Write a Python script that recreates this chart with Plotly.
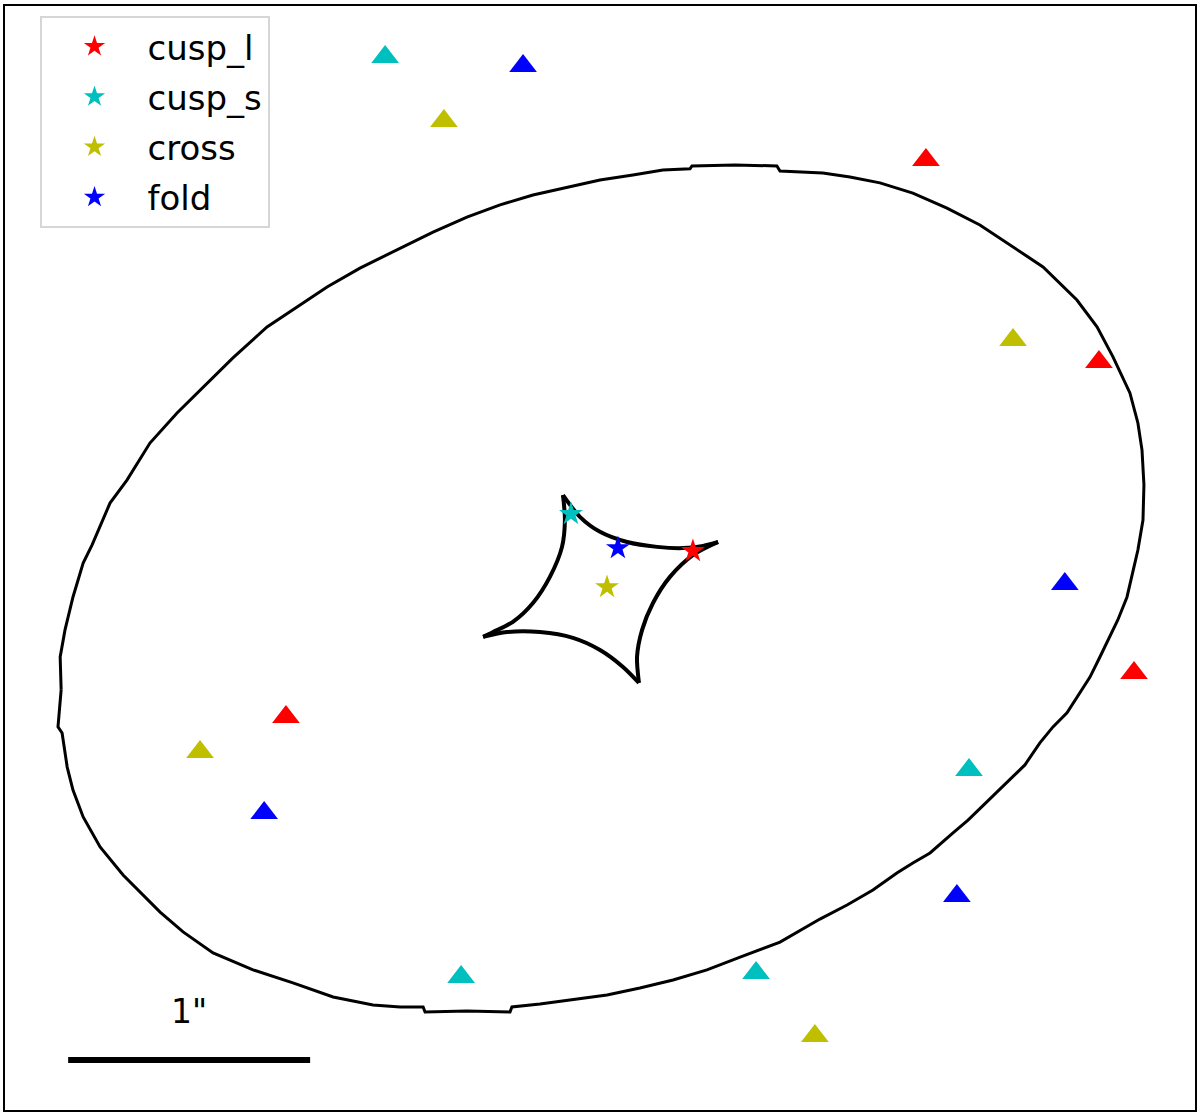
import plotly.graph_objects as go

# tangential critical curve (arcsec), clockwise from the left edge
crit_x = [-2.227, -2.231, -2.211, -2.178, -2.136, -2.099, -2.025, -1.955, -1.860, -1.748,
          -1.517, -1.376, -1.252, -1.128, -0.992, -0.826, -0.690, -0.550, -0.413, -0.277,
          -0.136, 0.000, 0.136, 0.260, 0.372, 0.380, 0.558, 0.731, 0.744, 0.921,
          1.033, 1.157, 1.293, 1.434, 1.570, 1.707, 1.831, 1.971, 2.054, 2.120,
          2.190, 2.223, 2.240, 2.248, 2.244, 2.223, 2.202, 2.178, 2.140, 2.107,
          2.066, 2.025, 1.983, 1.930, 1.872, 1.818, 1.756, 1.521, 1.459, 1.364,
          1.293, 1.227, 1.128, 1.021, 0.909, 0.744, 0.579, 0.442, 0.302, 0.165,
          0.029, -0.112, -0.248, -0.364, -0.372, -0.550, -0.723, -0.731, -0.826, -0.938,
          -1.103, -1.269, -1.434, -1.599, -1.723, -1.818, -1.971, -2.066, -2.136, -2.178,
          -2.202, -2.223, -2.240, -2.227]
crit_y = [-0.417, -0.281, -0.169, -0.033, 0.107, 0.182, 0.355, 0.450, 0.603, 0.727,
          0.955, 1.083, 1.165, 1.248, 1.326, 1.409, 1.475, 1.537, 1.587, 1.628,
          1.661, 1.690, 1.711, 1.731, 1.736, 1.748, 1.752, 1.748, 1.727, 1.719,
          1.702, 1.678, 1.636, 1.574, 1.504, 1.413, 1.331, 1.194, 1.083, 0.959,
          0.810, 0.686, 0.574, 0.430, 0.285, 0.161, 0.066, -0.033, -0.128, -0.198,
          -0.281, -0.364, -0.430, -0.512, -0.570, -0.636, -0.727, -0.955, -1.008, -1.091,
          -1.132, -1.174, -1.244, -1.306, -1.364, -1.459, -1.521, -1.574, -1.616, -1.649,
          -1.678, -1.698, -1.715, -1.727, -1.748, -1.744, -1.748, -1.727, -1.727, -1.719,
          -1.686, -1.628, -1.574, -1.504, -1.417, -1.335, -1.182, -1.066, -0.942, -0.831,
          -0.736, -0.595, -0.570, -0.417]

# caustic: four folds, top cusp -> right -> bottom -> left -> top
caus_x = [-0.153, -0.083, 0.000, 0.112, 0.236, 0.343, 0.426, 0.488, None,
          0.488, 0.384, 0.289, 0.219, 0.174, 0.153, 0.161, None,
          0.161, 0.095, 0.000, -0.112, -0.248, -0.384, -0.483, None,
          -0.483, -0.442, -0.360, -0.277, -0.207, -0.157, -0.145, -0.153]
caus_y = [0.388, 0.298, 0.236, 0.194, 0.174, 0.169, 0.178, 0.194, None,
          0.194, 0.140, 0.050, -0.058, -0.169, -0.281, -0.388, None,
          -0.388, -0.322, -0.252, -0.202, -0.178, -0.178, -0.198, None,
          -0.198, -0.178, -0.136, -0.058, 0.050, 0.174, 0.285, 0.388]

names = ["cusp_l", "cusp_s", "cross", "fold"]
colors = ["#ff0000", "#00bfbf", "#bfbf00", "#0000ff"]

# source positions
src_x = [0.384, -0.120, 0.029, 0.074]
src_y = [0.157, 0.310, 0.008, 0.169]

# lensed image positions, one list per source
img_x_cusp_l = [1.347, 2.062, 2.207, -1.298]
img_y_cusp_l = [1.773, 0.938, -0.347, -0.529]
img_x_cusp_s = [-0.888, 1.525, -0.574, 0.645]
img_y_cusp_s = [2.198, -0.748, -1.603, -1.587]
img_x_cross = [-0.645, 1.707, -1.653, 0.888]
img_y_cross = [1.934, 1.029, -0.674, -1.847]
img_x_fold = [-0.318, 1.921, 1.475, -1.388]
img_y_fold = [2.161, 0.021, -1.269, -0.926]

img_x = [img_x_cusp_l, img_x_cusp_s, img_x_cross, img_x_fold]
img_y = [img_y_cusp_l, img_y_cusp_s, img_y_cross, img_y_fold]

# 1 arcsec scale bar
bar_x0, bar_len, bar_y = -2.198, 1.0, -1.946

fig = go.Figure()

fig.add_trace(go.Scatter(x=crit_x, y=crit_y, mode="lines",
                         line=dict(color="black", width=3), showlegend=False))
fig.add_trace(go.Scatter(x=caus_x, y=caus_y, mode="lines",
                         line=dict(color="black", width=4, shape="spline", smoothing=0.8),
                         showlegend=False))

for i, name in enumerate(names):
    fig.add_trace(go.Scatter(x=img_x[i], y=img_y[i], mode="markers",
                             marker=dict(symbol="triangle-up", size=24, color=colors[i]),
                             showlegend=False))

for i, name in enumerate(names):
    fig.add_trace(go.Scatter(x=[src_x[i]], y=[src_y[i]], mode="markers", name=name,
                             legendgroup=name,
                             marker=dict(symbol="star", size=18, color=colors[i])))

fig.add_trace(go.Scatter(x=[bar_x0, bar_x0 + bar_len], y=[bar_y, bar_y], mode="lines",
                         line=dict(color="black", width=6), showlegend=False))
fig.add_annotation(x=bar_x0 + bar_len / 2, y=bar_y, yshift=48, text='1"', showarrow=False,
                   font=dict(size=33, color="black"))

axis_style = dict(showgrid=False, zeroline=False, showticklabels=False, ticks="",
                  showline=True, mirror=True, linecolor="black", linewidth=2)

fig.update_layout(
    width=1200, height=1113,
    margin=dict(l=5, r=5, t=6, b=3),
    plot_bgcolor="white", paper_bgcolor="white",
    font=dict(family="DejaVu Sans", color="black"),
    xaxis=dict(range=[-2.459, 2.459], **axis_style),
    yaxis=dict(range=[-2.153, 2.409], **axis_style),
    legend=dict(x=0.029, y=0.991, xanchor="left", yanchor="top",
                font=dict(size=34), bgcolor="white",
                bordercolor="#d6d6d6", borderwidth=2,
                itemwidth=96, tracegroupgap=3),
)

fig.write_html("out.html", config={"displayModeBar": False},
               post_script="document.body.style.margin='0';")
